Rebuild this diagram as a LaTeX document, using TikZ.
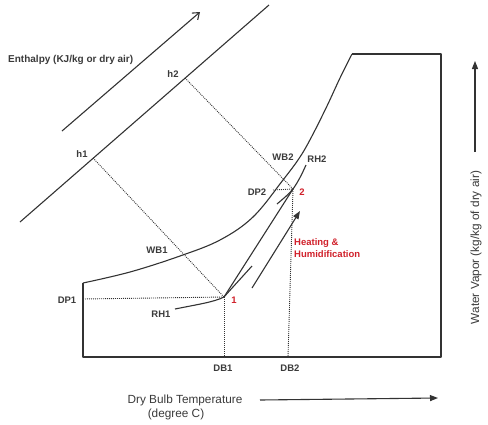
\documentclass[tikz,border=0pt]{standalone}
\usepackage{fontspec}
\setmainfont{Liberation Sans}
\usetikzlibrary{arrows.meta}
\definecolor{ink}{HTML}{333333}
\definecolor{txt}{HTML}{3A3A3A}
\definecolor{redtxt}{HTML}{D0202A}
\tikzset{
  chartline/.style={draw=ink, line width=1.1pt, line join=round},
  dotline/.style={draw=ink, line width=0.9pt, dash pattern=on 0.9pt off 1.1pt},
  lbl/.style={text=txt, font=\fontsize{9.5}{11}\selectfont\bfseries, inner sep=0pt, anchor=base},
  redlbl/.style={text=redtxt, font=\fontsize{9.5}{12}\selectfont\bfseries, inner sep=0pt},
  axislbl/.style={text=txt, font=\fontsize{11.8}{14}\selectfont, inner sep=0pt, anchor=base},
  filledtip/.style={-{Triangle[length=8pt,width=6pt]}},
  opentip/.style={-{Straight Barb[length=6pt,width=9pt]}}
}
\begin{document}
\begin{tikzpicture}[x=1pt,y=-1pt]
\useasboundingbox (0,0) rectangle (488,424);
% key points
\coordinate (P1) at (224,297);
\coordinate (P2) at (293,189);
\coordinate (EnTop) at (269,5);
\coordinate (EnBot) at (20,222);
\coordinate (H1) at (93,158);
\coordinate (H2) at (185,78);
\coordinate (SatL) at (83,283);
\coordinate (SatT) at (352,54);
\coordinate (BL) at (83,357);
\coordinate (BR) at (441,357);
\coordinate (TR) at (441,54);
\coordinate (DPa) at (83,299);
\coordinate (DBa) at (224,357);
\coordinate (DBb) at (288,357);
\coordinate (DPb) at (273,190);
% frame
\draw[chartline] (SatL) -- (BL) -- (BR) -- (TR) -- (SatT);
% saturation curve
\draw[chartline] plot[smooth, tension=0.6] coordinates {(83,283) (130,272) (180,256) (220,240) (253,217) (283,180) (300,157) (312,136) (327,106) (340,78) (352,54)};
% enthalpy line and arrow
\draw[chartline] (EnBot) -- (EnTop);
\coordinate (EAs) at (62,131);
\coordinate (EAe) at (200,12);
\draw[chartline, opentip] (EAs) -- (EAe);
% dotted construction lines
\draw[dotline] (H1) -- (P1);
\draw[dotline] (H2) -- (P2);
\draw[dotline] (DPa) -- (P1);
\draw[dotline] (P1) -- (DBa);
\draw[dotline] (P2) -- (DBb);
\draw[dotline] (DPb) -- (P2);
% RH curves
\coordinate (RH1s) at (175,309);
\coordinate (RH1e) at (252,266);
\draw[chartline] (RH1s) .. controls (200,304) and (214,302) .. (P1) .. controls (232,288) and (243,276) .. (RH1e);
\coordinate (RH2s) at (277,204);
\coordinate (RH2e) at (306,165);
\draw[chartline] (RH2s) .. controls (284,198) and (289,194) .. (P2) .. controls (298,182) and (302,174) .. (RH2e);
% process line
\draw[chartline] (P1) -- (P2);
% process arrow
\coordinate (PAs) at (252,288);
\coordinate (PAe) at (300,211);
\draw[chartline, filledtip] (PAs) -- (PAe);
% axis arrows
\coordinate (XAs) at (260,400);
\coordinate (XAe) at (438,398);
\draw[chartline, filledtip] (XAs) -- (XAe);
\coordinate (YAs) at (475,152);
\coordinate (YAe) at (475,61);
\draw[chartline, filledtip] (YAs) -- (YAe);
% labels
\node[lbl, font=\fontsize{10}{12}\selectfont\bfseries, anchor=base west] (enth) at (8,62) {Enthalpy (KJ/kg or dry air)};
\node[lbl] (h2) at (173,77) {h2};
\node[lbl] (h1) at (82,157) {h1};
\node[lbl] (wb2) at (283,160) {WB2};
\node[lbl] (rh2) at (317,162) {RH2};
\node[lbl] (dp2) at (257,195) {DP2};
\node[lbl] (wb1) at (157,253) {WB1};
\node[lbl] (rh1) at (161,317) {RH1};
\node[lbl] (dp1) at (67,303) {DP1};
\node[lbl] (db1) at (223,371) {DB1};
\node[lbl] (db2) at (290,371) {DB2};
\node[redlbl, anchor=base] (two) at (302,195) {2};
\node[redlbl, anchor=base] (one) at (234,303) {1};
\node[redlbl, anchor=base west, align=left] (heat) at (294,257) {Heating \&\\Humidification};
\node[axislbl] (xlab1) at (185,403) {Dry Bulb Temperature};
\node[axislbl] (xlab2) at (176,417.5) {(degree C)};
\node[axislbl, rotate=90] (ylab) at (479,247.5) {Water Vapor (kg/kg of dry air)};
\end{tikzpicture}
\end{document}
